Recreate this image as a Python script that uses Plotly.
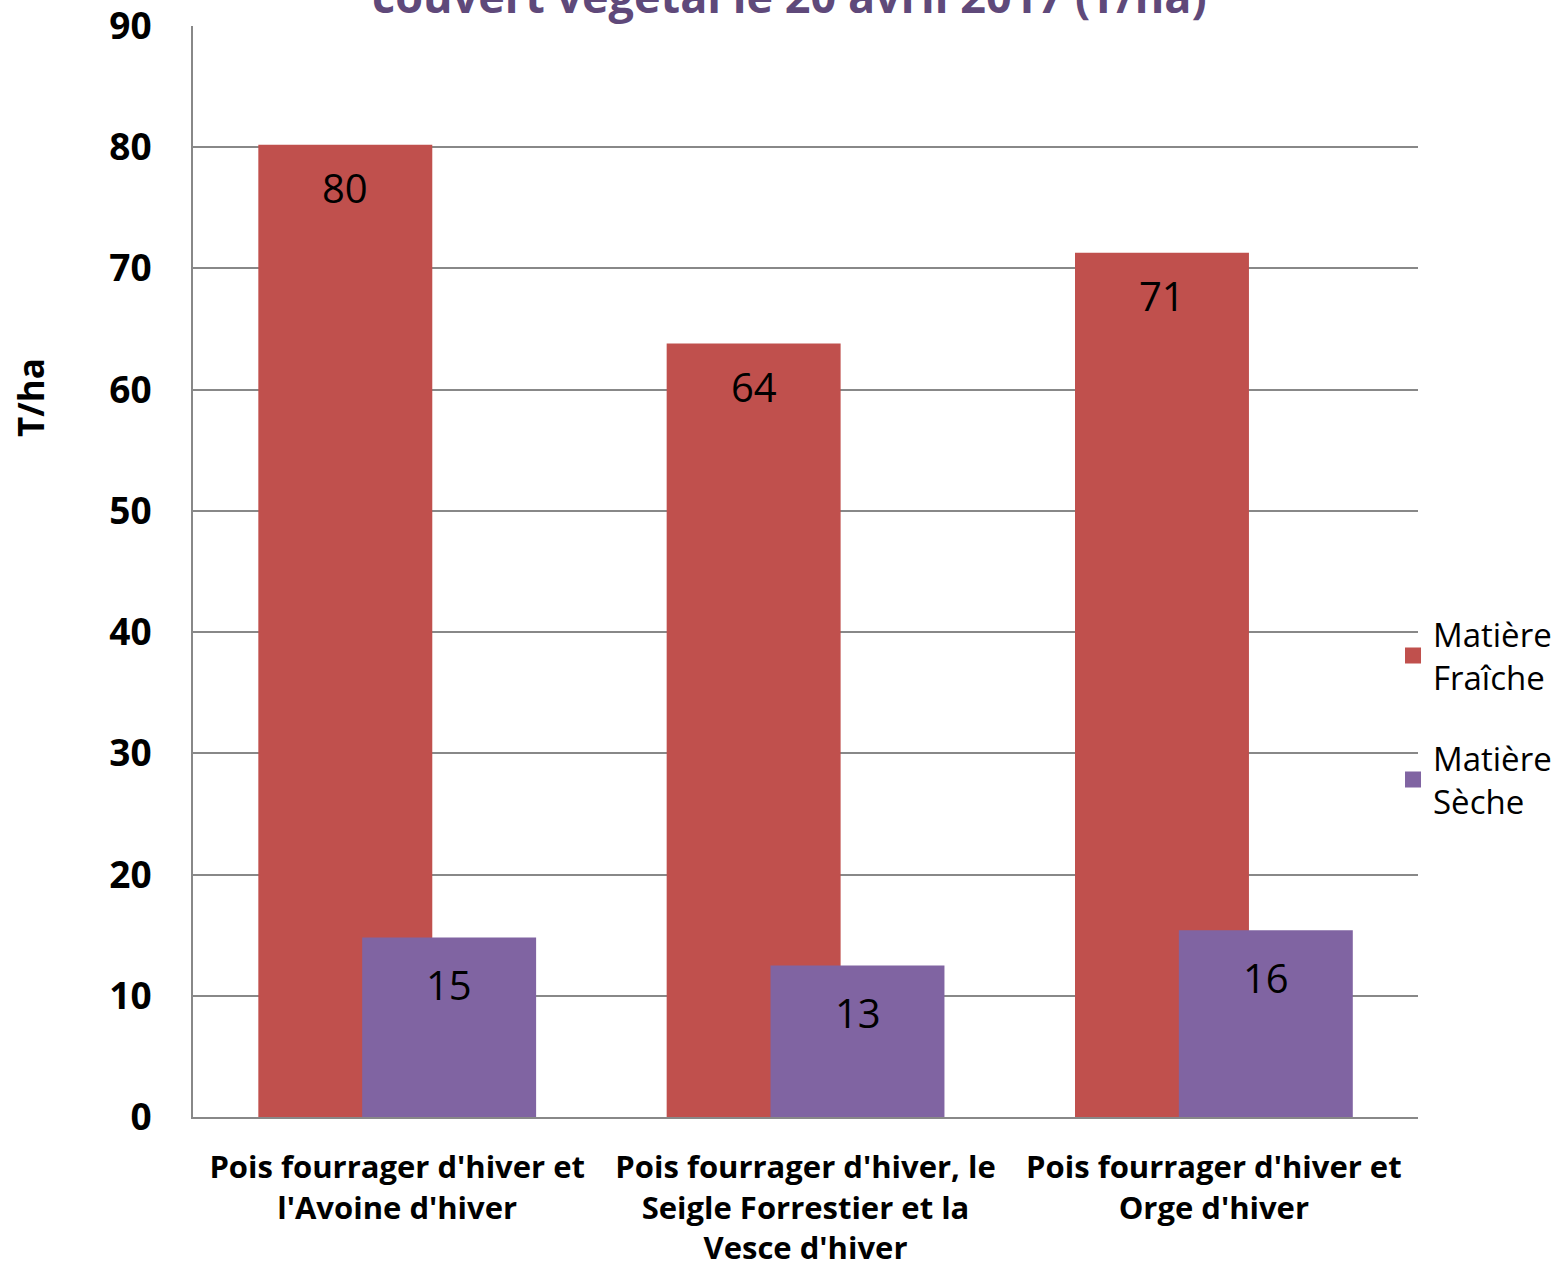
import plotly.graph_objects as go

categories = ["Pois fourrager d'hiver et<br>l'Avoine d'hiver",
              "Pois fourrager d'hiver, le<br>Seigle Forrestier et la<br>Vesce d'hiver",
              "Pois fourrager d'hiver et<br>Orge d'hiver"]
fraiche = [80.2, 63.8, 71.3]
seche = [14.8, 12.5, 15.4]
fraiche_labels = ["80", "64", "71"]
seche_labels = ["15", "13", "16"]
series_names = ["Matière<br>Fraîche", "Matière<br>Sèche"]
colors = ["#C0504D", "#8064A2"]
title_text = "couvert végétal le 20 avril 2017 (T/ha)"
y_title = "T/ha"

FONT = "Open Sans"
bw = 0.426
offsets = [-0.340, -0.0857]

fig = go.Figure()
for vals, name, col, off in [(fraiche, series_names[0], colors[0], offsets[0]),
                             (seche, series_names[1], colors[1], offsets[1])]:
    fig.add_trace(go.Bar(
        x=categories, y=vals, name=name,
        marker=dict(color=col, line=dict(width=0)),
        width=bw, offset=off, showlegend=False,
    ))

# legend entries with larger square swatches
for i, (name, col) in enumerate(zip(series_names, colors)):
    fig.add_trace(go.Scatter(
        x=[None], y=[None], mode="markers", name=name,
        marker=dict(symbol="square", size=20, color=col),
        legendgroup=f"g{i}", showlegend=True,
    ))

# data labels
for vals, labels, xs, ys in [(fraiche, fraiche_labels, -52, -43),
                             (seche, seche_labels, 52, -47)]:
    for c, v, t in zip(categories, vals, labels):
        fig.add_annotation(
            x=c, y=v, text=t, showarrow=False, xref="x", yref="y",
            xshift=xs, yshift=ys, yanchor="middle",
            font=dict(size=40, color="black", family=FONT),
        )

fig.update_layout(
    width=1557, height=1272,
    barmode="overlay",
    paper_bgcolor="white", plot_bgcolor="white",
    margin=dict(l=193, r=139, t=26, b=155, autoexpand=False),
    font=dict(family=FONT, color="black"),
    legend=dict(x=0.9796, y=0.366, xanchor="left", yanchor="middle",
                font=dict(size=33, family=FONT, color="black"),
                traceorder="grouped", tracegroupgap=35,
                bgcolor="rgba(0,0,0,0)"),
    showlegend=True,
)
fig.add_annotation(
    text="<b>" + title_text + "</b>", xref="paper", yref="paper",
    x=0.487, y=1.0, yanchor="bottom", yshift=-2, showarrow=False,
    font=dict(size=45, color="#5F497A", family=FONT),
)
fig.add_annotation(
    text="<b>" + y_title + "</b>", xref="paper", yref="paper",
    x=0, y=0.659, xshift=-163, xanchor="center", yanchor="middle",
    textangle=-90, showarrow=False,
    font=dict(size=35, color="black", family=FONT),
)
fig.update_yaxes(
    range=[0, 90], dtick=10, showgrid=True, gridcolor="#888888", gridwidth=2,
    showline=True, linecolor="#888888", linewidth=2, zeroline=False,
    tickfont=dict(size=37, family=FONT, color="black", weight="bold"),
    ticks="", ticklabelstandoff=32, automargin=False, ticklabeloverflow="allow",
)
fig.update_xaxes(
    showline=True, linecolor="#888888", linewidth=2, showgrid=False,
    tickfont=dict(size=31, family=FONT, color="black", weight="bold"),
    ticks="", ticklabelstandoff=22, automargin=False,
)
fig.write_html("out.html", config={"displayModeBar": False},
               post_script="document.body.style.margin='0';")
